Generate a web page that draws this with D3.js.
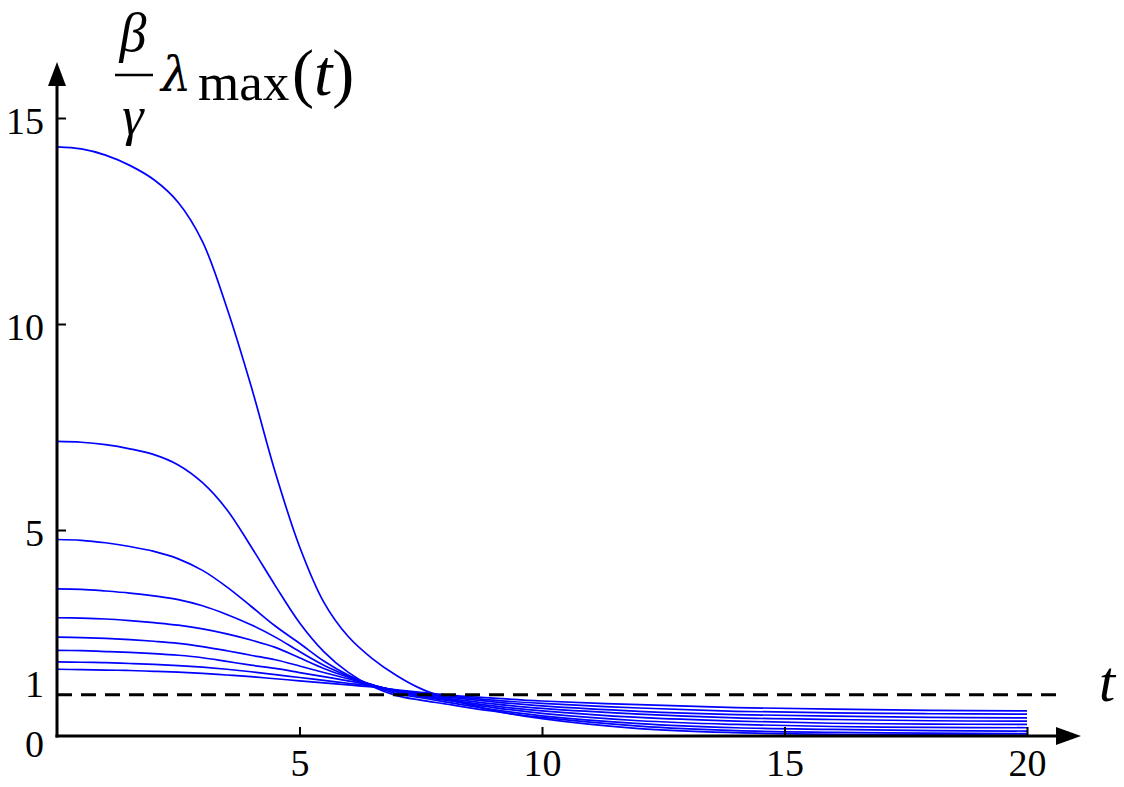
<!DOCTYPE html>
<head>
  <title>lambda max</title>
  <meta charset="utf-8">
  <script src="https://d3js.org/d3.v7.min.js"></script>
  <style>
    body { margin: 0; background: #fff; }
    .curve { fill: none; stroke: #0000ff; stroke-width: 1.7; }
    .thresh { stroke: #000; stroke-width: 3; stroke-dasharray: 15,9; }
    .axis text { font-family: "Liberation Serif", serif; font-size: 38px; fill: #000; }
    .axis line { stroke: #000; stroke-width: 2; }
    .lbl { font-family: "Liberation Serif", serif; fill: #000; }
  </style>
</head>
<body>
<div class="container"></div>
<script>
'use strict';
var width = 1124, height = 787;

// sample times
var tGrid = [0, 0.5, 1, 1.5, 2, 2.5, 3, 3.5, 4, 4.5, 5, 5.5, 6, 6.5, 7, 7.5, 8, 9, 10, 12, 14, 16, 18, 20];

// one array per curve, top curve first
var c1 = [14.3, 14.25, 14.1, 13.85, 13.5, 12.95, 12.0, 10.4, 8.5, 6.4, 4.6, 3.25, 2.42, 1.88, 1.47, 1.15, 0.93, 0.62, 0.42, 0.18, 0.08, 0.04, 0.03, 0.02];
var c2 = [7.15, 7.13, 7.07, 6.97, 6.83, 6.58, 6.15, 5.5, 4.6, 3.65, 2.75, 2.05, 1.55, 1.2, 0.98, 0.87, 0.78, 0.6, 0.45, 0.24, 0.13, 0.09, 0.07, 0.06];
var c3 = [4.77, 4.75, 4.69, 4.6, 4.48, 4.3, 4.02, 3.62, 3.15, 2.67, 2.25, 1.82, 1.48, 1.22, 1.03, 0.93, 0.83, 0.64, 0.49, 0.3, 0.2, 0.16, 0.13, 0.12];
var c4 = [3.57, 3.56, 3.52, 3.47, 3.4, 3.31, 3.16, 2.95, 2.7, 2.4, 2.05, 1.72, 1.46, 1.24, 1.07, 0.96, 0.87, 0.69, 0.55, 0.37, 0.28, 0.23, 0.21, 0.2];
var c5 = [2.87, 2.86, 2.84, 2.8, 2.75, 2.69, 2.6, 2.48, 2.33, 2.15, 1.9, 1.64, 1.43, 1.24, 1.08, 0.98, 0.89, 0.73, 0.61, 0.45, 0.36, 0.31, 0.29, 0.28];
var c6 = [2.4, 2.39, 2.37, 2.34, 2.3, 2.25, 2.17, 2.07, 1.96, 1.85, 1.7, 1.54, 1.39, 1.24, 1.09, 1.0, 0.92, 0.78, 0.67, 0.53, 0.44, 0.4, 0.37, 0.36];
var c7 = [2.08, 2.07, 2.05, 2.03, 2.0, 1.96, 1.9, 1.81, 1.72, 1.64, 1.54, 1.44, 1.34, 1.23, 1.1, 1.02, 0.95, 0.83, 0.73, 0.6, 0.52, 0.48, 0.45, 0.44];
var c8 = [1.8, 1.79, 1.78, 1.76, 1.74, 1.71, 1.67, 1.62, 1.56, 1.49, 1.42, 1.35, 1.28, 1.21, 1.11, 1.04, 0.98, 0.87, 0.79, 0.68, 0.6, 0.56, 0.54, 0.53];
var c9 = [1.62, 1.61, 1.6, 1.59, 1.57, 1.55, 1.52, 1.48, 1.44, 1.39, 1.34, 1.29, 1.24, 1.19, 1.12, 1.06, 1.0, 0.92, 0.85, 0.76, 0.69, 0.65, 0.62, 0.61];
var curves = [c1, c2, c3, c4, c5, c6, c7, c8, c9];

var yTicks = [0, 1, 5, 10, 15];
var xTicks = [5, 10, 15, 20];
var threshold = 1;

var svg = d3.select('.container')
  .append('svg')
  .attr('width', width)
  .attr('height', height);

var x = d3.scaleLinear().domain([0, 20]).range([57, 1027]);
var y = d3.scaleLinear().domain([0, 15]).range([736, 118]);

var line = d3.line()
  .x(function (d, i) { return x(tGrid[i]); })
  .y(function (d) { return y(d); })
  .curve(d3.curveCatmullRom.alpha(0.5));

svg.selectAll('path.curve')
  .data(curves)
  .enter().append('path')
  .attr('class', 'curve')
  .attr('d', line);

// dashed level 1
svg.append('line')
  .attr('class', 'thresh')
  .attr('x1', x(0)).attr('x2', 1063)
  .attr('y1', y(threshold)).attr('y2', y(threshold));

// axes
var xAxis = svg.append('g')
  .attr('class', 'axis')
  .attr('transform', 'translate(0,' + y(0) + ')')
  .call(d3.axisBottom(x).tickValues(xTicks).tickSize(-9).tickPadding(13));
xAxis.select('.domain').remove();

var yAxis = svg.append('g')
  .attr('class', 'axis')
  .attr('transform', 'translate(' + x(0) + ',0)')
  .call(d3.axisLeft(y).tickValues(yTicks).tickSize(-9).tickPadding(13));
yAxis.select('.domain').remove();
yAxis.selectAll('.tick text')
  .attr('dy', function (d) { return d === 0 ? '0.55em' : d === 1 ? '0.05em' : '0.4em'; });
yAxis.selectAll('.tick line')
  .attr('opacity', function (d) { return d < 2 ? 0 : 1; });

// spines with arrowheads
svg.append('line')
  .attr('x1', x(0)).attr('x2', x(0))
  .attr('y1', y(0) + 1.5).attr('y2', 80)
  .attr('stroke', '#000').attr('stroke-width', 3);
svg.append('path')
  .attr('d', 'M' + (x(0) - 9) + ',86 L' + x(0) + ',62 L' + (x(0) + 9) + ',86 Z')
  .attr('fill', '#000');
svg.append('line')
  .attr('x1', x(0) - 1.5).attr('x2', 1062)
  .attr('y1', y(0)).attr('y2', y(0))
  .attr('stroke', '#000').attr('stroke-width', 3);
svg.append('path')
  .attr('d', 'M1056,' + (y(0) - 9) + ' L1081,' + y(0) + ' L1056,' + (y(0) + 9) + ' Z')
  .attr('fill', '#000');

// y label: beta/gamma lambda_max(t)
svg.append('text').attr('class', 'lbl')
  .attr('x', 133).attr('y', 51)
  .attr('text-anchor', 'middle')
  .style('font-size', '54px').style('font-style', 'italic')
  .text('β');
svg.append('line')
  .attr('x1', 115).attr('x2', 153)
  .attr('y1', 75).attr('y2', 75)
  .attr('stroke', '#000').attr('stroke-width', 2.5);
svg.append('text').attr('class', 'lbl')
  .attr('x', 133).attr('y', 134)
  .attr('text-anchor', 'middle')
  .style('font-size', '54px').style('font-style', 'italic')
  .text('γ');
svg.append('text').attr('class', 'lbl')
  .attr('x', 161).attr('y', 91)
  .style('font-family', '"DejaVu Serif", serif')
  .style('font-size', '48px').style('font-style', 'italic')
  .text('λ');
svg.append('text').attr('class', 'lbl')
  .attr('x', 198).attr('y', 100)
  .style('font-size', '53px')
  .text('max');
svg.append('text').attr('class', 'lbl')
  .attr('x', 292).attr('y', 95)
  .style('font-size', '66px')
  .html('(<tspan font-style="italic">t</tspan>)');

// x label
svg.append('text').attr('class', 'lbl')
  .attr('x', 1099).attr('y', 701)
  .style('font-size', '58px').style('font-style', 'italic')
  .text('t');
</script>
</body>
